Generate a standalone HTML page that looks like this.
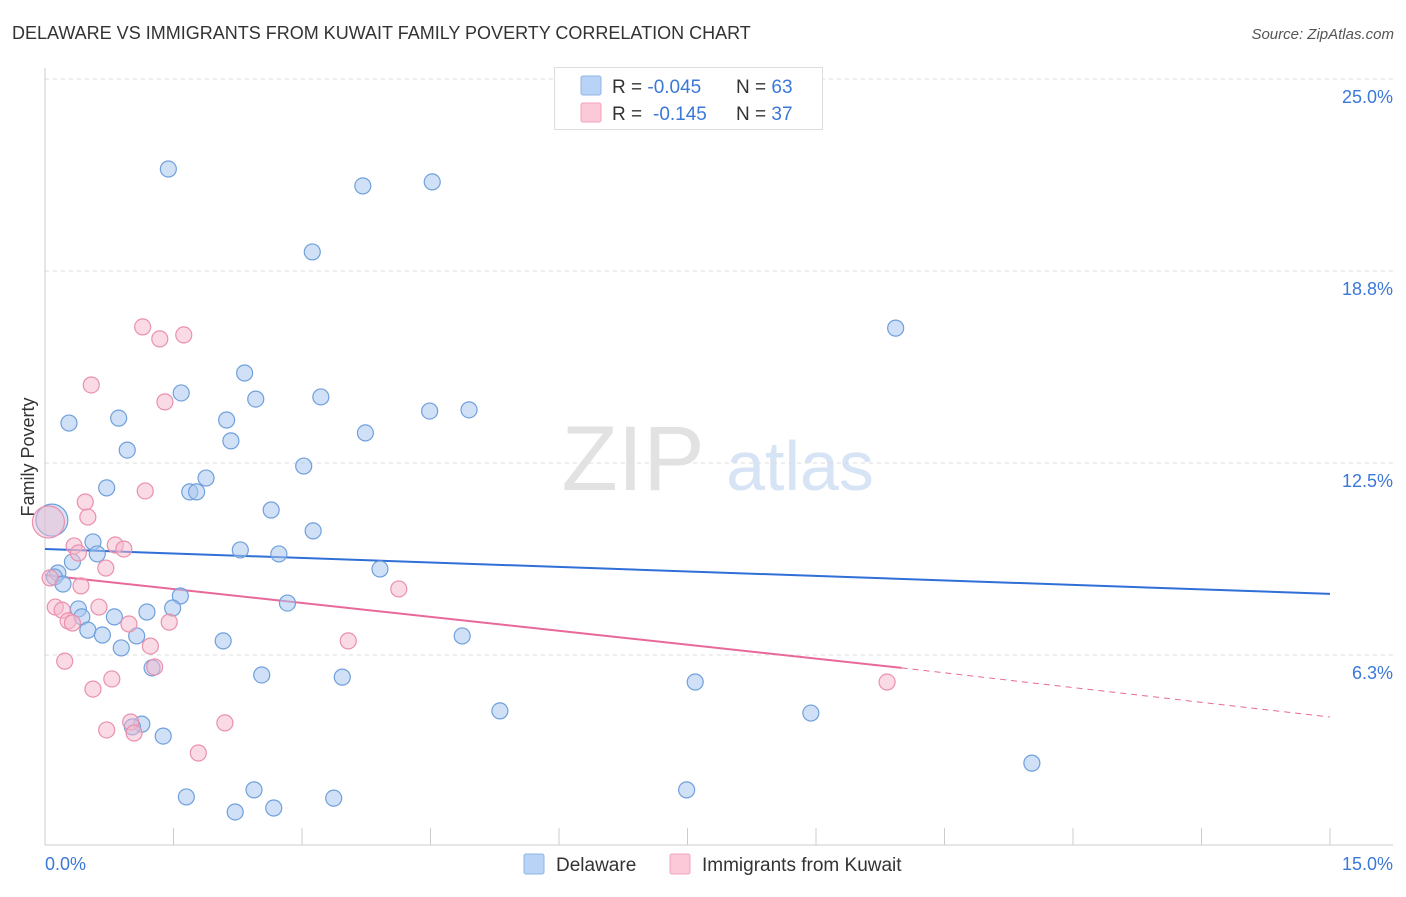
<!DOCTYPE html>
<html><head><meta charset="utf-8"><style>
body{margin:0;background:#fff;font-family:"Liberation Sans",sans-serif;}
svg text{font-family:"Liberation Sans",sans-serif;}
</style></head><body>
<svg id="chart" width="1406" height="892">
<text x="12" y="39" font-size="18" fill="#333">DELAWARE VS IMMIGRANTS FROM KUWAIT FAMILY POVERTY CORRELATION CHART</text>
<text x="1394" y="39" font-size="15" fill="#555" font-style="italic" text-anchor="end">Source: ZipAtlas.com</text>
<text x="34" y="457" font-size="18" fill="#333" transform="rotate(-90 34 457)" text-anchor="middle">Family Poverty</text>
<g>
<text x="633" y="490" font-size="92" fill="#e2e2e2" font-family="Liberation Serif" text-anchor="middle">ZIP</text>
<text x="800" y="490" font-size="70" fill="#d6e4f5" text-anchor="middle">atlas</text>
</g>
<g id="grid"></g><g id="axes"></g><g id="trend"></g><g id="pts"></g>
<g>
<rect x="554.5" y="67.5" width="268" height="62" fill="#fff" stroke="#ddd"/>
<rect x="581" y="76" width="20" height="19" fill="#b8d3f5" stroke="#8fb5e6" rx="2"/>
<rect x="581" y="103" width="20" height="19" fill="#fbc9d8" stroke="#f0a3bb" rx="2"/>
<text x="612" y="93" font-size="19" fill="#333">R = <tspan fill="#3b78d8">-0.045</tspan><tspan x="736">N = </tspan><tspan fill="#3b78d8">63</tspan></text>
<text x="612" y="120" font-size="19" fill="#333">R = <tspan x="653" fill="#3b78d8">-0.145</tspan><tspan x="736">N = </tspan><tspan fill="#3b78d8">37</tspan></text>
</g>
<g>
<rect x="524" y="854" width="20" height="20" fill="#b8d3f5" stroke="#8fb5e6" rx="2"/>
<text x="556" y="871" font-size="19" fill="#333">Delaware</text>
<rect x="670" y="854" width="20" height="20" fill="#fbc9d8" stroke="#f0a3bb" rx="2"/>
<text x="702" y="871" font-size="19" fill="#333">Immigrants from Kuwait</text>
</g>
</svg>
<script>
const yTicks=[25.0,18.8,12.5,6.3];
const yTickVals=[25,18.75,12.5,6.25];
const xTickLabels=["0.0%","15.0%"];
const blueX=[1.44,3.71,4.52,3.12,9.93,2.33,1.59,2.46,3.22,4.49,4.95,0.28,0.86,2.12,3.74,2.17,0.96,3.02,1.88,0.72,1.69,1.77,2.64,3.13,0.56,0.61,2.28,2.73,0.32,3.91,0.15,0.11,0.21,1.58,2.83,0.39,1.19,1.49,0.43,0.81,0.50,0.67,1.07,4.87,2.08,0.89,1.25,2.53,3.47,7.59,5.31,8.94,1.13,1.02,1.38,11.52,2.44,7.49,1.65,3.37,2.67,2.22];
const blueY=[22.07,21.52,21.65,19.37,16.89,15.43,14.78,14.58,14.65,14.19,14.23,13.80,13.96,13.90,13.48,13.22,12.92,12.40,12.01,11.69,11.56,11.56,10.97,10.29,9.93,9.54,9.67,9.54,9.28,9.05,8.92,8.79,8.56,8.17,7.94,7.75,7.65,7.78,7.49,7.49,7.06,6.90,6.87,6.87,6.71,6.48,5.83,5.60,5.53,5.37,4.43,4.36,4.00,3.91,3.61,2.73,1.86,1.86,1.63,1.59,1.27,1.14];
const pinkX=[1.14,1.34,1.62,0.54,1.40,1.17,0.47,0.50,0.34,0.39,0.82,0.92,0.71,0.06,0.42,4.13,0.12,0.20,0.63,0.27,0.32,0.98,1.45,3.54,1.23,0.23,1.28,0.78,0.56,9.83,1.00,2.10,0.72,1.04,1.79];
const pinkY=[16.93,16.54,16.67,15.04,14.49,11.59,11.23,10.74,9.80,9.57,9.83,9.70,9.08,8.76,8.50,8.40,7.81,7.71,7.81,7.36,7.29,7.26,7.32,6.71,6.54,6.05,5.86,5.47,5.14,5.37,4.07,4.04,3.81,3.71,3.06];
const bigX=[0.08,0.04];const bigY=[10.64,10.58];
const blueTrend=[9.70,8.24];const pinkTrend=[8.85,5.83,4.23];const pinkSolidEnd=10.0;
const X=v=>45+v*1285/15, Y=v=>79+(25-v)*30.72;
const ns="http://www.w3.org/2000/svg";
function mk(t,p,a){const e=document.createElementNS(ns,t);for(const k in a)e.setAttribute(k,a[k]);document.getElementById(p).appendChild(e);return e;}
yTickVals.forEach((v,i)=>{
const l=mk('line','grid',{x1:45,x2:1393,y1:Y(v),y2:Y(v),stroke:'#ddd','stroke-dasharray':'4,4'});


const t=mk('text','grid',{x:1393,y:Y(v)+24,'font-size':18,fill:'#3b78d8','text-anchor':'end'});t.textContent=yTicks[i].toFixed(1)+'%';


});
mk('line','axes',{x1:45,x2:45,y1:68,y2:845,stroke:'#ccc'});
mk('line','axes',{x1:45,x2:1393,y1:845,y2:845,stroke:'#ccc'});
for(let i=1;i<=10;i++){const x=X(i*1.5);const l=mk('line','axes',{x1:x,x2:x,y1:828,y2:845,stroke:'#ccc'});

}
const t0=mk('text','axes',{x:45,y:870,'font-size':18,fill:'#3b78d8'});t0.textContent=xTickLabels[0];


const t1=mk('text','axes',{x:1393,y:870,'font-size':18,fill:'#3b78d8','text-anchor':'end'});t1.textContent=xTickLabels[1];


function pt(x,y,r,f,s,name){const c=mk('circle','pts',{cx:X(x),cy:Y(y),r:r,fill:f,stroke:s,'stroke-width':1.2});

}
blueX.forEach((x,i)=>pt(x,blueY[i],8,'rgba(169,199,238,0.55)','#6fa0dc','delaware-point'));
pinkX.forEach((x,i)=>pt(x,pinkY[i],8,'rgba(246,184,203,0.5)','#ea90ad','kuwait-point'));
pt(bigX[0],bigY[0],16,'rgba(169,199,238,0.5)','#6fa0dc','delaware-point-large');
pt(bigX[1],bigY[1],16,'rgba(246,184,203,0.45)','#ea90ad','kuwait-point-large');
const bl=mk('line','trend',{x1:X(0),x2:X(15),y1:Y(blueTrend[0]),y2:Y(blueTrend[1]),stroke:'#2f6fd6','stroke-width':2});


const pl=mk('line','trend',{x1:X(0),x2:X(pinkSolidEnd),y1:Y(pinkTrend[0]),y2:Y(pinkTrend[1]),stroke:'#e8689a','stroke-width':2});


const pd=mk('line','trend',{x1:X(pinkSolidEnd),x2:X(15),y1:Y(pinkTrend[1]),y2:Y(pinkTrend[2]),stroke:'#e8689a','stroke-width':1,'stroke-dasharray':'6,5'});


</script>
</body></html>
